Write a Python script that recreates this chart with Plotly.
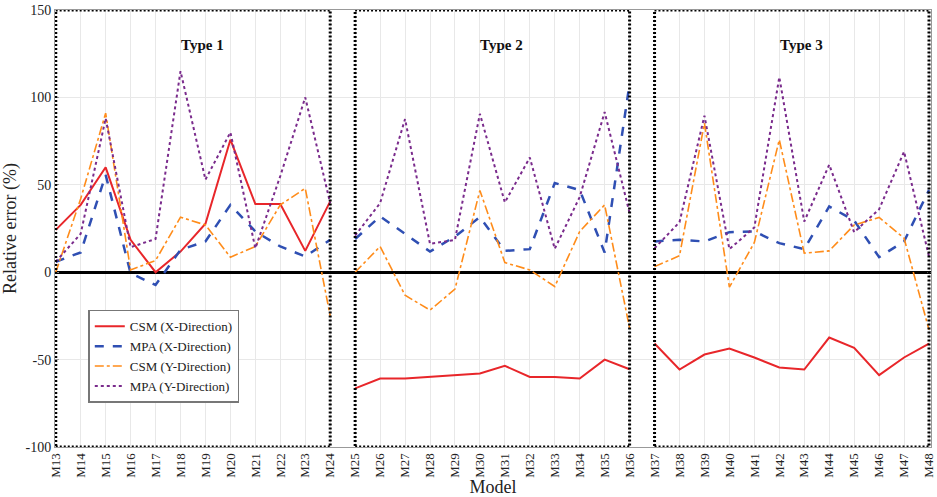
import plotly.graph_objects as go

models = [f"M{i}" for i in range(13, 49)]
groups = [("Type 1", 0, 12), ("Type 2", 12, 24), ("Type 3", 24, 36)]

csm_x = [24.2, 38.5, 60, 18.5, 0, 11.8, 27.7, 75.8, 39, 39, 12.2, 40.5,
         -66.5, -60.8, -60.8, -59.9, -58.9, -58, -53.6, -59.9, -59.9, -60.8, -50, -55.5,
         -40.8, -55.7, -47.1, -43.7, -48.8, -54.5, -55.7, -37.4, -43.3, -58.9, -48.8, -40.8]
mpa_x = [6, 11.3, 55.7, -0.6, -7.3, 12.8, 17.6, 38.5, 23.3, 14.7, 9, 18.5,
         19, 31.9, 22, 11.8, 20.4, 31.5, 12.2, 13.2, 51, 47, 11.3, 108,
         17.6, 18.5, 17.6, 22.9, 23.3, 16.6, 13.2, 37.6, 29.6, 8.6, 17.6, 47]
csm_y = [0, 42, 91, 1.3, 6.7, 31.5, 27, 8.6, 14.7, 38.5, 48, -25,
         0, 14.7, -13.2, -21.7, -9.7, 46.8, 5.5, 1.3, -8.2, 23.3, 38.5, -32,
         3.2, 9.4, 85.3, -8.6, 17, 75.8, 10.9, 12.2, 27, 31.3, 19.5, -33]
mpa_y = [6, 22, 88, 14.3, 19, 115, 53, 80, 13.7, 55, 100, 39.5,
         21, 39.5, 87.6, 16.2, 18.5, 90.6, 39.9, 65.6, 13.4, 43, 91.6, 33.8,
         13.7, 28.6, 89.5, 13.2, 25.6, 111.6, 29, 61.5, 22.9, 36, 69, 9]

y_tickvals = [150, 100, 50, 0, -50, -100]
y_ticktext = ["150", "100", "50", "0", "-50", "-100"]

series = [
    ("CSM (X-Direction)", csm_x, "#e8262a", "solid", 2),
    ("MPA (X-Direction)", mpa_x, "#2f4fb3", "dash", 2.5),
    ("CSM (Y-Direction)", csm_y, "#ff8c1a", "dashdot", 1.6),
    ("MPA (Y-Direction)", mpa_y, "#7a2b8c", "dot", 2),
]

FONT = "Liberation Serif, Times New Roman, serif"

fig = go.Figure()
for name, vals, color, dash, w in series:
    for gi, (gname, a, b) in enumerate(groups):
        fig.add_trace(go.Scatter(
            x=models[a:b], y=vals[a:b], mode="lines", name=name,
            legendgroup=name, showlegend=(gi == 0),
            line=dict(color=color, dash=dash, width=w),
        ))

shapes = []
annotations = []
for gname, a, b in groups:
    shapes.append(dict(type="rect", xref="x", yref="y",
                       x0=models[a], x1=models[b - 1], y0=-100, y1=150,
                       line=dict(color="black", width=3, dash="2px,2px"),
                       layer="above"))
    mid = models[a + 6]
    annotations.append(dict(x=mid, y=130, xref="x", yref="y", text=f"<b>{gname}</b>",
                            showarrow=False, xshift=-3,
                            font=dict(family=FONT, size=15, color="#111")))

fig.update_layout(
    width=937, height=497,
    margin=dict(l=55, r=6, t=10, b=50),
    paper_bgcolor="white", plot_bgcolor="white",
    font=dict(family=FONT, size=14, color="#222"),
    shapes=shapes, annotations=annotations,
    showlegend=True,
    legend=dict(x=0.038, y=0.314, xanchor="left", yanchor="top",
                bgcolor="white", bordercolor="#777", borderwidth=1.5,
                font=dict(family=FONT, size=13, color="#222"),
                traceorder="normal", tracegroupgap=0, itemwidth=30),
    xaxis=dict(type="category", categoryorder="array", categoryarray=models,
               range=[-0.03, 35.08], tickangle=-90, showgrid=True, automargin=False,
               gridcolor="#e8e8e8", gridwidth=1, showline=True, linecolor="#999",
               mirror=True, ticks="", tickfont=dict(family=FONT, size=13),
               title=dict(text="Model", font=dict(family=FONT, size=18), standoff=2)),
    yaxis=dict(range=[-100, 150], tickvals=y_tickvals, ticktext=y_ticktext, automargin=False,
               showgrid=True, gridcolor="#e8e8e8", gridwidth=1,
               zeroline=True, zerolinecolor="black", zerolinewidth=2.5,
               showline=True, linecolor="#999", mirror="ticks", ticks="inside",
               ticklen=4, tickcolor="#999", tickfont=dict(family=FONT, size=14),
               title=dict(text="Relative error (%)", font=dict(family=FONT, size=18), standoff=6)),
)

fig.write_html("out.html", config={"displayModeBar": False},
               post_script="document.body.style.margin='0';document.body.style.overflow='hidden';")
